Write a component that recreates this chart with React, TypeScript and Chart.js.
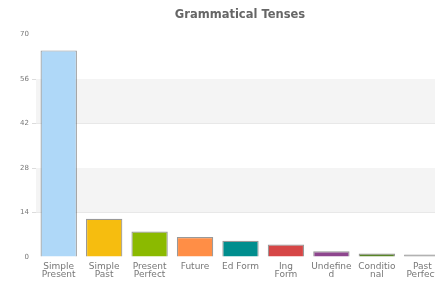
import React, { useEffect, useRef } from "react";
import { Chart, registerables } from "chart.js";

Chart.register(...registerables);

const categories: string[][] = [
  ["Simple", "Present"],
  ["Simple", "Past"],
  ["Present", "Perfect"],
  ["Future"],
  ["Ed Form"],
  ["Ing", "Form"],
  ["Undefine", "d"],
  ["Conditio", "nal"],
  ["Past", "Perfect"],
];
const values: number[] = [65, 12, 8, 6.3, 5.1, 3.9, 1.8, 1.1, 0.8];
const barColors: string[] = [
  "#AFD8F8",
  "#F6BD0F",
  "#8BBA00",
  "#FF8E46",
  "#008E8E",
  "#D64646",
  "#8E468E",
  "#588526",
  "#9A9A9A",
];
const yTicks: number[] = [0, 14, 28, 42, 56, 70];
const title = "Grammatical Tenses";

const bandPlugin = {
  id: "bands",
  beforeDatasetsDraw(chart: any) {
    const { ctx, chartArea, scales } = chart;
    const y = scales.y;
    ctx.save();
    ctx.fillStyle = "#f4f4f4";
    for (let i = 1; i + 1 < yTicks.length; i += 2) {
      const a = y.getPixelForValue(yTicks[i]);
      const b = y.getPixelForValue(yTicks[i + 1]);
      ctx.fillRect(chartArea.left, b, chartArea.right - chartArea.left, a - b);
    }
    ctx.restore();
  },
};

export default function App() {
  const ref = useRef<HTMLCanvasElement>(null);
  useEffect(() => {
    if (!ref.current) return;
    const chart = new Chart(ref.current, {
      type: "bar",
      data: {
        labels: categories,
        datasets: [
          {
            data: values,
            backgroundColor: barColors,
            borderColor: "rgba(70,70,70,0.55)",
            borderWidth: 1.2,
            categoryPercentage: 0.8,
            barPercentage: 1,
          },
        ],
      },
      plugins: [bandPlugin],
      options: {
        responsive: false,
        animation: false,
        layout: { padding: { left: 35, right: 35, top: 0, bottom: 2 } },
        plugins: {
          legend: { display: false },
          tooltip: { enabled: false },
          title: {
            display: true,
            text: title,
            color: "#666",
            font: { family: "DejaVu Sans", size: 11.5, weight: "bold", lineHeight: 1.2 },
            padding: { top: 8.6, bottom: 12.1 },
          },
        },
        scales: {
          x: {
            afterFit(scale: any) {
              scale.height = 23;
            },
            grid: { display: false, drawTicks: false },
            border: { display: false },
            ticks: {
              color: "#777",
              font: { family: "DejaVu Sans", size: 9, lineHeight: 0.95 },
              padding: 5,
              maxRotation: 0,
              autoSkip: false,
            },
          },
          y: {
            min: 0,
            max: 70,
            afterFit(scale: any) {
              scale.width = 1;
            },
            afterBuildTicks(scale: any) {
              scale.ticks = yTicks.map((v) => ({ value: v }));
            },
            border: { display: false },
            grid: {
              color: (c: any) =>
                c.tick && (c.tick.value === 0 || c.tick.value === 70) ? "rgba(0,0,0,0)" : "#dcdcdc",
              tickLength: 4,
              lineWidth: 1,
            },
            ticks: {
              color: "#777",
              font: { family: "DejaVu Sans", size: 7 },
              mirror: true,
              crossAlign: "far",
              padding: -16,
            },
          },
        },
      },
    });
    return () => chart.destroy();
  }, []);
  return (
    <div style={{ position: "fixed", left: 0, top: 0, width: 435, height: 282, overflow: "hidden", background: "#fff" }}>
      <canvas ref={ref} width={480} height={282} style={{ width: 480, height: 282, display: "block" }} />
    </div>
  );
}
